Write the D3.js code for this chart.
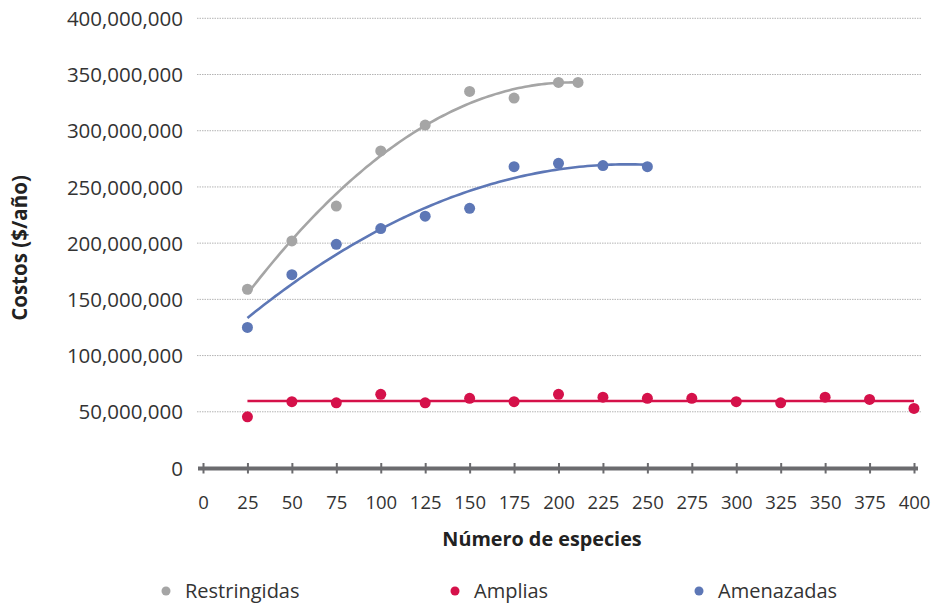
<!DOCTYPE html>
<html>
<head>
<meta charset="utf-8">
<script src="https://cdn.jsdelivr.net/npm/d3@7"></script>
<style>
  html, body { margin: 0; padding: 0; background: #fff; }
  svg { display: block; }
</style>
</head>
<body>
<svg id="chart" width="934" height="605"></svg>
<script>
// ---- data ----
const seriesNames = ["Restringidas", "Amplias", "Amenazadas"];
const seriesColors = ["#a5a5a5", "#d5114a", "#5d77b6"];
const restringidasX = [25, 50, 75, 100, 125, 150, 175, 200, 211];
const restringidasY = [159e6, 202e6, 233e6, 282e6, 305e6, 335e6, 329e6, 343e6, 343e6];
const ampliasX = [25, 50, 75, 100, 125, 150, 175, 200, 225, 250, 275, 300, 325, 350, 375, 400];
const ampliasY = [45.5e6, 59e6, 58e6, 65.5e6, 58e6, 62e6, 59e6, 65.5e6, 63e6, 62e6, 62e6, 59e6, 58e6, 63e6, 61e6, 53e6];
const amenazadasX = [25, 50, 75, 100, 125, 150, 175, 200, 225, 250];
const amenazadasY = [125e6, 172e6, 199e6, 213e6, 224e6, 231e6, 268e6, 271e6, 269e6, 268e6];
const xTicks = [0, 25, 50, 75, 100, 125, 150, 175, 200, 225, 250, 275, 300, 325, 350, 375, 400];
const yTicks = [0, 50e6, 100e6, 150e6, 200e6, 250e6, 300e6, 350e6, 400e6];
const xTitle = "Número de especies";
const yTitle = "Costos ($/año)";

// ---- least squares polynomial fit ----
function polyfit(xs, ys, order) {
  const n = order + 1;
  const A = Array.from({length: n}, () => new Array(n).fill(0));
  const b = new Array(n).fill(0);
  for (let k = 0; k < xs.length; k++) {
    for (let i = 0; i < n; i++) {
      b[i] += ys[k] * Math.pow(xs[k], i);
      for (let j = 0; j < n; j++) A[i][j] += Math.pow(xs[k], i + j);
    }
  }
  for (let i = 0; i < n; i++) {
    let p = i;
    for (let r = i + 1; r < n; r++) if (Math.abs(A[r][i]) > Math.abs(A[p][i])) p = r;
    [A[i], A[p]] = [A[p], A[i]]; [b[i], b[p]] = [b[p], b[i]];
    for (let r = i + 1; r < n; r++) {
      const f = A[r][i] / A[i][i];
      for (let c = i; c < n; c++) A[r][c] -= f * A[i][c];
      b[r] -= f * b[i];
    }
  }
  const coef = new Array(n).fill(0);
  for (let i = n - 1; i >= 0; i--) {
    let s = b[i];
    for (let c = i + 1; c < n; c++) s -= A[i][c] * coef[c];
    coef[i] = s / A[i][i];
  }
  return x => coef.reduce((acc, c, i) => acc + c * Math.pow(x, i), 0);
}

const series = [
  {name: seriesNames[0], color: seriesColors[0], xs: restringidasX, ys: restringidasY, order: 2},
  {name: seriesNames[1], color: seriesColors[1], xs: ampliasX, ys: ampliasY, order: 0},
  {name: seriesNames[2], color: seriesColors[2], xs: amenazadasX, ys: amenazadasY, order: 2}
];

// ---- scales ----
const svg = d3.select("#chart");
const x = d3.scaleLinear().domain([0, 400]).range([203, 914]);
const y = d3.scaleLinear().domain([0, 400e6]).range([468, 18.3]);
const fmt = d3.format(",");
const labelFont = "'Open Sans', 'Noto Sans', sans-serif";

// gridlines
svg.append("g").selectAll("line").data(yTicks.filter(d => d > 0)).join("line")
  .attr("x1", 197).attr("x2", 922)
  .attr("y1", d => y(d)).attr("y2", d => y(d))
  .attr("stroke", "#b4b4b4").attr("stroke-width", 1).attr("stroke-dasharray", "1.5,1");

// y axis labels
const yAxis = d3.axisLeft(y).tickValues(yTicks).tickFormat(fmt).tickSize(0).tickPadding(0);
const gy = svg.append("g").attr("transform", "translate(183,0)").call(yAxis);
gy.select(".domain").remove();
gy.selectAll("text").attr("font-family", labelFont).attr("font-size", 20.5)
  .attr("fill", "#333").attr("dy", "0.35em");

// x axis
const xAxis = d3.axisBottom(x).tickValues(xTicks).tickFormat(d3.format("d")).tickSize(0).tickPadding(0);
const gx = svg.append("g").attr("transform", "translate(0,468.5)").call(xAxis);
gx.select(".domain").remove();
gx.selectAll("text").attr("font-family", labelFont).attr("font-size", 18.5)
  .attr("fill", "#333").attr("y", 27);
svg.append("line").attr("x1", 198).attr("x2", 918).attr("y1", 468.5).attr("y2", 468.5)
  .attr("stroke", "#6b6b6e").attr("stroke-width", 4);
gx.selectAll(".tick").append("line")
  .attr("y1", -5.5).attr("y2", 5).attr("stroke", "#6b6b6e").attr("stroke-width", 2);

// trendlines
series.forEach(s => {
  const f = polyfit(s.xs, s.ys, s.order);
  const x0 = d3.min(s.xs), x1 = d3.max(s.xs);
  const pts = d3.range(0, 101).map(i => x0 + (x1 - x0) * i / 100);
  svg.append("path")
    .datum(pts)
    .attr("d", d3.line().x(d => x(d)).y(d => y(f(d))))
    .attr("fill", "none").attr("stroke", s.color).attr("stroke-width", 2.6);
});

// points
series.forEach(s => {
  svg.append("g").selectAll("circle").data(s.xs.map((d, i) => [d, s.ys[i]])).join("circle")
    .attr("cx", d => x(d[0])).attr("cy", d => y(d[1])).attr("r", 5.5)
    .attr("fill", s.color);
});

// axis titles
svg.append("text").attr("x", 542).attr("y", 546).attr("text-anchor", "middle")
  .attr("font-family", labelFont).attr("font-weight", "bold").attr("font-size", 19.8)
  .attr("fill", "#222").text(xTitle);
svg.append("text").attr("transform", "translate(27,248) rotate(-90)").attr("text-anchor", "middle")
  .attr("font-family", labelFont).attr("font-weight", "bold").attr("font-size", 20.5)
  .attr("fill", "#222").text(yTitle);

// legend
const legendX = [166, 455, 699];
const lg = svg.append("g").selectAll("g").data(series).join("g")
  .attr("transform", (d, i) => `translate(${legendX[i]},591)`);
lg.append("circle").attr("r", 4.5).attr("fill", d => d.color);
lg.append("text").attr("x", 19).attr("dy", "0.35em")
  .attr("font-family", labelFont).attr("font-size", 20).attr("fill", "#333")
  .text(d => d.name);
</script>
</body>
</html>
